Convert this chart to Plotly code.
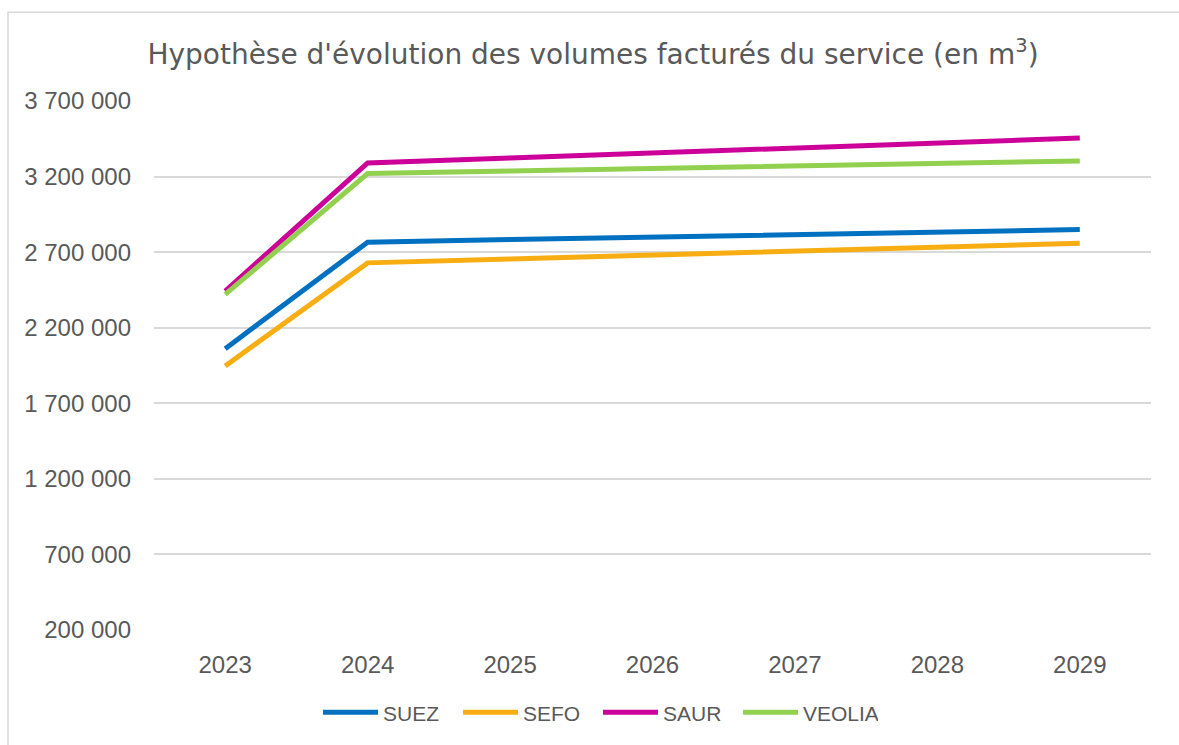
import plotly.graph_objects as go

years = ["2023", "2024", "2025", "2026", "2027", "2028", "2029"]
suez = [2061000, 2766000, 2783000, 2800000, 2815000, 2832000, 2849000]
sefo = [1947000, 2629000, 2655000, 2681000, 2707000, 2733000, 2759000]
saur = [2442000, 3290000, 3323000, 3356000, 3390000, 3422000, 3455000]
veolia = [2420000, 3220000, 3237000, 3253000, 3270000, 3286000, 3303000]

series = [
    ("SUEZ", suez, "#0070C0"),
    ("SEFO", sefo, "#F8AE12"),
    ("SAUR", saur, "#CC0099"),
    ("VEOLIA", veolia, "#92D050"),
]

fig = go.Figure()
for name, vals, col in series:
    fig.add_trace(go.Scatter(x=years, y=vals, name=name, mode="lines",
                             line=dict(color=col, width=5)))

W, H = 1179, 745
ml, mr, mt, mb = 154, 28, 101, 113
pw, ph = W - ml - mr, H - mt - mb

def px_x(p):
    return (p - ml) / pw

def px_y(p):
    return (H - mb - p) / ph

fig.add_shape(type="rect", xref="paper", yref="paper",
              x0=px_x(8), x1=px_x(1190), y0=px_y(760), y1=px_y(12),
              line=dict(color="#d9d9d9", width=1.5), fillcolor="rgba(0,0,0,0)",
              layer="below")

fig.update_layout(
    width=W, height=H,
    margin=dict(l=ml, r=mr, t=mt, b=mb),
    paper_bgcolor="white", plot_bgcolor="white",
    separators=", ",
    font=dict(family="Liberation Sans, Arial, sans-serif", color="#595959", size=23),
    title=dict(text="Hypothèse d'évolution des volumes facturés du service (en m<sup>3</sup>)",
               x=px_x(593), xref="paper", xanchor="center",
               y=1 - 54 / H, yanchor="middle",
               font=dict(size=28, color="#595959", family="DejaVu Sans, sans-serif")),
    xaxis=dict(type="category", range=[-0.5, 6.5], showgrid=False, showline=False,
               ticks="", tickfont=dict(size=24), ticklabelstandoff=18),
    yaxis=dict(range=[200000, 3700000], dtick=500000, tick0=200000,
               tickformat=",d", showgrid=True, gridcolor="#d9d9d9", gridwidth=2,
               zeroline=False, showline=False, ticks="", tickfont=dict(size=24),
               ticklabelstandoff=22),
    legend=dict(orientation="h", x=px_x(598), xanchor="center", y=px_y(715), yanchor="middle",
                font=dict(size=21), itemwidth=55, tracegroupgap=0,
                entrywidth=70, entrywidthmode="pixels",
                bgcolor="rgba(0,0,0,0)"),
    showlegend=True,
)

fig.write_html("out.html", post_script="document.body.style.margin='0';",
               config={"displayModeBar": False})
